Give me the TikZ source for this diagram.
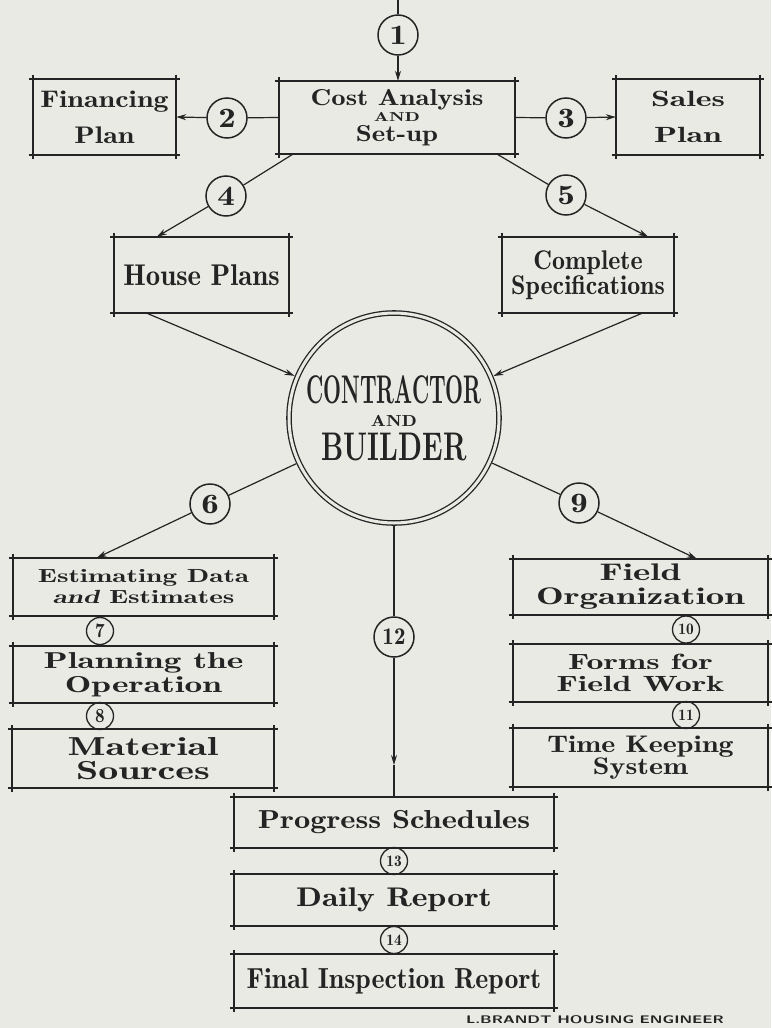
\documentclass[tikz,border=0pt]{standalone}
\usepackage{fontspec}
\usetikzlibrary{arrows.meta}
\newfontfamily\handN{lmromandemi10}[Extension=.otf, UprightFont=*-regular, ItalicFont=*-oblique, FakeStretch=0.96]
\newfontfamily\handM{lmromandemi10}[Extension=.otf, UprightFont=*-regular, ItalicFont=*-oblique, FakeStretch=1.25]
\newfontfamily\handW{lmromandemi10}[Extension=.otf, UprightFont=*-regular, ItalicFont=*-oblique, FakeStretch=1.54]
\newfontfamily\blockA{lmroman10-bold.otf}[FakeStretch=0.52]
\newfontfamily\blockB{lmroman10-bold.otf}[FakeStretch=0.68]
\newfontfamily\signfont{lmsans10-bold.otf}[FakeStretch=1.45]
\definecolor{paper}{HTML}{EAEAE5}
\definecolor{ink}{HTML}{242424}
\tikzset{
  rimline/.style={draw=ink, line width=2.4pt, shorten <=-4pt, shorten >=-4pt},
  sideline/.style={draw=ink, line width=1.6pt, shorten <=-4pt, shorten >=-4pt},
  frame/.style={inner sep=0pt, align=center, text=ink, append after command={
      (\tikzlastnode.north west) edge[rimline] (\tikzlastnode.north east)
      (\tikzlastnode.south west) edge[rimline] (\tikzlastnode.south east)
      (\tikzlastnode.north west) edge[sideline] (\tikzlastnode.south west)
      (\tikzlastnode.north east) edge[sideline] (\tikzlastnode.south east)}},
  num/.style={circle, draw=ink, line width=1.5pt, minimum size=40pt, inner sep=0pt, text=ink, font=\handM\fontsize{28}{28}\selectfont},
  numsm/.style={num, line width=1.3pt, minimum size=27pt, font=\handN\fontsize{20}{20}\selectfont},
  ln/.style={draw=ink, line width=1.2pt},
  ar/.style={ln, -{Stealth[length=10pt, width=6pt]}},
}
\begin{document}
\begin{tikzpicture}[x=1pt, y=-1pt]
  \fill[paper] (0,0) rectangle (771,1028);
  \useasboundingbox (0,0) rectangle (771,1028);
  \node[num] (c1) at (398,35) {1};
  \node[frame, minimum width=236pt, minimum height=73pt, font=\handM\fontsize{23}{16}\selectfont] (cost) at (397,117.5) {Cost Analysis\\{\handW\fontsize{13}{13}\selectfont AND}\\[3pt]Set-up};
  \node[frame, minimum width=143pt, minimum height=76pt, font=\handM\fontsize{24}{36}\selectfont] (fin) at (104.5,117) {Financing\\Plan};
  \node[frame, minimum width=144pt, minimum height=76pt, font=\handW\fontsize{22}{36}\selectfont] (sales) at (688,117) {Sales\\Plan};
  \node[num] (c2) at (227,118) {2};
  \node[num] (c3) at (566,118) {3};
  \node[num] (c4) at (226,196) {4};
  \node[num] (c5) at (566,195) {5};
  \node[frame, minimum width=175pt, minimum height=76pt, font=\handN\fontsize{30}{30}\selectfont] (house) at (201.5,275) {House Plans};
  \node[frame, minimum width=172pt, minimum height=76pt, font=\handN\fontsize{27}{25}\selectfont] (spec) at (588,275) {Complete\\Specifications};
  \node[circle, draw=ink, double=paper, double distance=3pt, line width=1.3pt, minimum size=210pt, inner sep=0pt, outer sep=3pt, align=center, text=ink, font=\fontsize{20}{20}\selectfont] (cb) at (394,418) {{\blockA\fontsize{40}{20}\selectfont CONTRACTOR}\\[3pt]{\handM\fontsize{16}{20}\selectfont AND}\\[6pt]{\blockB\fontsize{40}{20}\selectfont BUILDER}};
  \node[num] (c6) at (210,504) {6};
  \node[num] (c9) at (579,503) {9};
  \node[num, font=\handN\fontsize{24}{24}\selectfont] (c12) at (394,637) {12};
  \node[frame, minimum width=261pt, minimum height=58pt, font=\handW\fontsize{19}{21}\selectfont] (est) at (143.5,587) {Estimating Data\\{\itshape and} Estimates};
  \node[numsm] (c7) at (100,631) {7};
  \node[frame, minimum width=261pt, minimum height=57pt, font=\handW\fontsize{23}{24}\selectfont] (plan) at (143.5,674.5) {Planning the\\Operation};
  \node[numsm] (c8) at (100,716) {8};
  \node[frame, minimum width=262pt, minimum height=59pt, font=\handW\fontsize{26}{24}\selectfont] (mat) at (143,758.5) {Material\\Sources};
  \node[frame, minimum width=255pt, minimum height=56pt, font=\handW\fontsize{24}{24}\selectfont] (field) at (640.5,587) {Field\\Organization};
  \node[numsm, font=\handN\fontsize{16}{16}\selectfont] (c10) at (686,629.5) {10};
  \node[frame, minimum width=255pt, minimum height=58pt, font=\handW\fontsize{22}{22}\selectfont] (forms) at (640.5,673) {Forms for\\Field Work};
  \node[numsm, font=\handN\fontsize{16}{16}\selectfont] (c11) at (686,715) {11};
  \node[frame, minimum width=255pt, minimum height=59pt, font=\handM\fontsize{24}{22}\selectfont] (time) at (640.5,757.5) {Time Keeping\\System};
  \node[frame, minimum width=320pt, minimum height=51pt, font=\handM\fontsize{26}{26}\selectfont] (prog) at (394,822.5) {Progress Schedules};
  \node[numsm, font=\handN\fontsize{16}{16}\selectfont] (c13) at (394,861) {13};
  \node[frame, minimum width=320pt, minimum height=52pt, font=\handM\fontsize{27}{27}\selectfont] (daily) at (394,900) {Daily Report};
  \node[numsm, font=\handN\fontsize{16}{16}\selectfont] (c14) at (394,940) {14};
  \node[frame, minimum width=320pt, minimum height=54pt, font=\handN\fontsize{29}{29}\selectfont] (final) at (394,981) {Final Inspection Report};
  \node[text=ink, font=\signfont\fontsize{11}{11}\selectfont] (sign) at (595,1020) {L.BRANDT\enspace HOUSING\enspace ENGINEER};
  \coordinate (top) at (398,0);
  \coordinate (tip) at (394,765);
  \draw[ln] (top) -- (c1);
  \draw[ar] (c1) -- (c1 |- cost.north);
  \draw[ln] (cost.west) -- (c2);
  \draw[ar] (c2) -- (fin.east);
  \draw[ln] (cost.east) -- (c3);
  \draw[ar] (c3) -- (sales.west);
  \draw[ln] ([xshift=14pt]cost.south west) -- (c4);
  \draw[ar] (c4) -- ([xshift=43pt]house.north west);
  \draw[ln] ([xshift=-18pt]cost.south east) -- (c5);
  \draw[ar] (c5) -- ([xshift=-26pt]spec.north east);
  \draw[ar] ([xshift=33pt]house.south west) -- (cb);
  \draw[ar] ([xshift=-32pt]spec.south east) -- (cb);
  \draw[ln] (cb) -- (c6);
  \draw[ar] (c6) -- ([xshift=84pt]est.north west);
  \draw[ln] (cb) -- (c9);
  \draw[ar] (c9) -- ([xshift=184pt]field.north west);
  \draw[ln] (cb) -- (c12);
  \draw[ar] (c12) -- (tip);
  \draw[ln] (tip) -- (prog.north);
\end{tikzpicture}
\end{document}
